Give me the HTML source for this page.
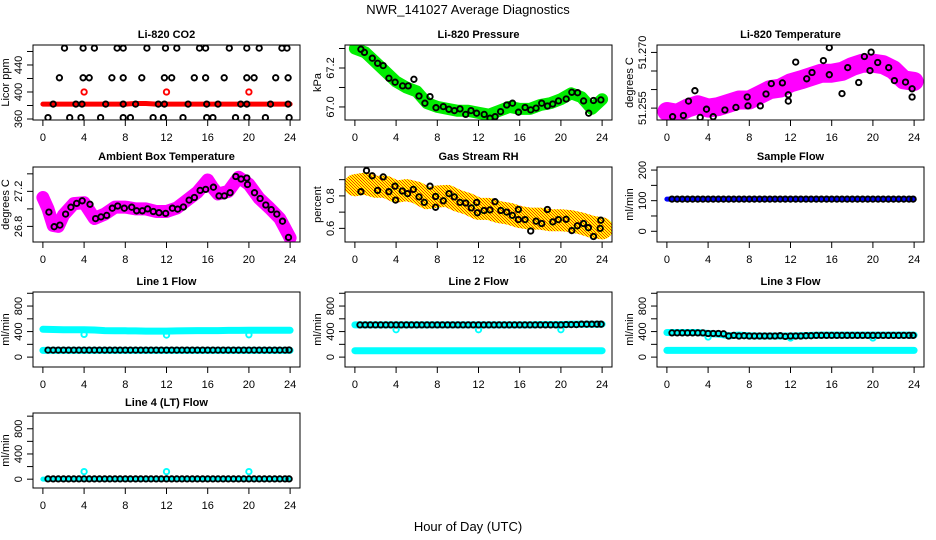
<!DOCTYPE html>
<html><head><meta charset="utf-8"><style>
html,body{margin:0;padding:0;background:#fff;}
svg{display:block;font-family:"Liberation Sans",Arial,sans-serif;}
</style></head><body>
<svg id="chart" width="936" height="540" viewBox="0 0 936 540" xmlns="http://www.w3.org/2000/svg">
<defs>
<pattern id="rhpat" width="3" height="3" patternUnits="userSpaceOnUse">
<rect width="3" height="3" fill="#ffff00"/><rect width="1" height="1" fill="#ff3300"/><rect x="1" y="1" width="1" height="1" fill="#ff3300"/><rect x="2" y="2" width="1" height="1" fill="#ff3300"/>
</pattern>
</defs>
<text x="468" y="14" text-anchor="middle" font-size="13">NWR_141027  Average Diagnostics</text>
<text x="468" y="531" text-anchor="middle" font-size="13">Hour of Day (UTC)</text>
<g id="panels"></g>
</svg>
<script>
const X_TICKS = [0,4,8,12,16,20,24];
const BAND_HOURS = [0,1,2,3,4,5,6,7,8,9,10,11,12,13,14,15,16,17,18,19,20,21,22,23,24];
const FLOW_HOURS = [0.5,1,1.5,2,2.5,3,3.5,4,4.5,5,5.5,6,6.5,7,7.5,8,8.5,9,9.5,10,10.5,11,11.5,12,12.5,13,13.5,14,14.5,15,15.5,16,16.5,17,17.5,18,18.5,19,19.5,20,20.5,21,21.5,22,22.5,23,23.5,23.9];
const DIP_HOURS = [4,12,20];

const CO2_RED_BAND = [382,382,382,382,382,382,382,382,382,383,383,382,382,382,382,382,382,382,382,382,382,382,382,382,382];
const CO2_RED_DIPS = [400,400,400];
const CO2_BLACK_HOURS = [2.1,3.9,5.0,7.2,7.8,10.1,11.9,13.0,15.2,15.8,18.1,19.8,21.0,23.2,23.7, 1.6,3.9,4.5,6.7,7.8,9.6,11.8,12.5,14.7,15.8,17.6,19.8,20.5,22.6,23.8, 1.0,3.2,3.8,6.1,7.8,9.0,11.2,11.8,14.1,15.9,17.0,19.2,19.8,22.1,23.8, 0.5,2.6,3.7,5.6,7.8,8.5,10.7,11.7,13.6,15.9,16.5,18.7,19.8,21.6,23.9];
const CO2_BLACK_VALUES = [465,465,465,465,465,465,465,465,465,465,465,465,465,465,465, 421,421,421,421,421,421,421,421,421,421,421,421,421,421,421, 382,382,382,382,382,382,382,382,382,382,382,382,382,382,382, 362,362,362,362,362,362,362,362,362,362,362,362,362,362,362];

const PRES_BAND = [67.30,67.28,67.23,67.18,67.13,67.10,67.08,67.02,67.00,66.99,66.98,66.98,66.97,66.96,66.98,67.00,66.99,66.99,67.01,67.02,67.04,67.07,67.05,66.99,67.04];
const PRES_BLACK_HOURS = [0.58,0.92,1.69,2.2,2.75,3.3,3.9,4.63,5.18,5.73,6.22,6.8,7.29,7.87,8.58,9.13,9.66,10.2,10.76,11.27,11.82,12.55,13.12,13.61,14.15,14.74,15.3,15.88,16.52,17.07,17.59,18.14,18.7,19.2,19.77,20.51,21.06,21.62,22.2,22.7,23.16,23.88];
const PRES_BLACK_VALUES = [67.296,67.28,67.25,67.224,67.212,67.147,67.127,67.108,67.108,67.142,67.056,67.019,67.053,66.996,67.002,66.988,66.981,66.99,66.962,66.981,66.968,66.962,66.942,66.95,66.976,67.01,67.019,66.973,66.997,66.985,66.994,67.019,67.005,67.015,67.031,67.041,67.075,67.073,67.031,66.968,67.033,67.036];

const LTEMP_BAND = [51.2541,51.2536,51.2550,51.2559,51.2550,51.2554,51.2563,51.2572,51.2572,51.2586,51.2600,51.2604,51.2618,51.2626,51.2635,51.2644,51.2644,51.2649,51.2662,51.2671,51.2671,51.2667,51.2653,51.2626,51.2622];
const LTEMP_BLACK_HOURS = [0.55,1.6,2.1,2.72,3.23,3.85,4.5,5.63,6.7,7.8,7.87,9.07,9.62,10.14,11.21,11.79,11.79,12.5,13.57,14.09,15.19,15.77,15.77,17.0,17.55,18.62,19.17,19.82,19.72,20.47,21.53,22.09,23.16,23.8,23.8];
const LTEMP_BLACK_VALUES = [51.2527,51.2530,51.2569,51.2597,51.2525,51.2547,51.2527,51.2545,51.2552,51.2580,51.2556,51.2556,51.2588,51.2616,51.2618,51.2586,51.2569,51.2674,51.2629,51.2646,51.2678,51.2713,51.2640,51.2589,51.2659,51.2619,51.2689,51.2701,51.2651,51.2673,51.2659,51.2624,51.2620,51.2602,51.2580];

const AMB_BAND_HOURS = [0,0.5,1,1.5,2,3,4,5,6,7,8,9,10,11,12,13,14,15,16,16.5,17,18,19,20,21,22,23,24];
const AMB_BAND = [27.13,27.0,26.81,26.80,26.93,27.06,27.07,26.89,26.94,27.02,27.02,27.0,27.0,26.97,26.97,27.01,27.10,27.19,27.33,27.24,27.17,27.2,27.36,27.28,27.12,27.01,26.89,26.67];
const AMB_BLACK_HOURS = [0.58,1.1,1.65,2.2,2.72,3.27,3.82,4.57,5.12,5.64,6.19,6.74,7.26,7.9,8.62,9.1,9.65,10.17,10.72,11.27,11.92,12.57,13.09,13.64,14.19,14.71,15.26,15.81,16.55,17.1,17.62,18.17,18.73,19.24,19.8,19.86,20.54,21.09,21.64,22.16,22.71,23.26,23.84];
const AMB_BLACK_VALUES = [26.963,26.797,26.815,26.94,27.019,27.063,27.092,27.052,26.889,26.908,26.926,27.008,27.033,27.008,27.019,26.978,26.978,27.0,26.97,26.956,26.948,27.008,26.997,27.022,27.1,27.13,27.211,27.222,27.248,27.148,27.148,27.185,27.37,27.341,27.352,27.278,27.185,27.119,27.044,26.992,26.941,26.859,26.674];

const RH_BAND = [0.866,0.876,0.856,0.856,0.826,0.836,0.82,0.786,0.796,0.80,0.77,0.75,0.72,0.72,0.70,0.69,0.67,0.66,0.66,0.65,0.65,0.644,0.63,0.61,0.60];
const RH_BLACK_HOURS = [0.58,1.13,1.68,2.2,2.75,3.3,3.89,3.95,4.6,5.12,5.67,6.22,6.74,7.29,7.84,7.84,8.58,9.14,9.65,10.2,10.76,11.3,11.83,11.89,12.53,13.12,13.6,14.16,14.74,15.29,15.87,15.87,16.52,17.07,17.59,18.14,18.69,19.21,19.76,20.5,21.06,21.6,22.19,22.67,23.16,23.81,23.87];
const RH_BLACK_VALUES = [0.826,0.956,0.924,0.834,0.917,0.826,0.86,0.774,0.83,0.814,0.84,0.794,0.76,0.86,0.796,0.73,0.77,0.814,0.794,0.76,0.756,0.726,0.76,0.696,0.71,0.714,0.764,0.71,0.70,0.68,0.654,0.716,0.654,0.584,0.644,0.63,0.716,0.64,0.654,0.656,0.586,0.616,0.63,0.604,0.55,0.60,0.65];

const SAMPLE_BAND = [105,105,105,105,105,105,105,105,105,105,105,105,105,105,105,105,105,105,105,105,105,105,105,105,105];
const SAMPLE_BLACK = [105,105,105,105,105,105,105,105,105,105,105,105,105,105,105,105,105,105,105,105,105,105,105,105,105,105,105,105,105,105,105,105,105,105,105,105,105,105,105,105,105,105,105,105,105,105,105,105];

const L1_CYAN_HIGH = [435,432,430,428,430,425,415,412,412,410,408,408,408,410,412,415,415,415,418,418,420,420,420,420,420];
const L1_CYAN_LOW = [105,105,105,105,105,105,105,105,105,105,105,105,105,105,105,105,105,105,105,105,105,105,105,105,105];
const L1_DIPS = [355,345,350];
const L1_BLACK = [110,110,110,110,110,110,110,110,110,110,110,110,110,110,110,110,110,110,110,110,110,110,110,110,110,110,110,110,110,110,110,110,110,110,110,110,110,110,110,110,110,110,110,110,110,110,110,112];

const L2_CYAN_HIGH = [505,505,505,505,505,505,505,505,505,505,505,505,505,505,505,505,505,505,510,510,510,515,515,515,515];
const L2_CYAN_LOW = [100,100,100,100,100,100,100,100,100,100,100,100,100,100,100,100,100,100,100,100,100,100,100,100,100];
const L2_DIPS = [430,430,430];
const L2_BLACK = [505,505,505,505,505,505,505,505,505,505,505,505,505,505,505,505,505,505,505,505,505,505,505,505,505,505,505,505,505,505,505,505,505,505,505,505,505,505,505,505,510,510,510,515,515,515,515,515];

const L3_CYAN_HIGH = [385,385,385,385,370,360,335,345,335,330,330,330,330,335,340,345,345,345,345,345,345,345,345,345,345];
const L3_CYAN_LOW = [105,105,105,105,105,105,105,105,105,105,105,105,105,105,105,105,105,105,105,105,105,105,105,105,105];
const L3_DIPS = [315,300,300];
const L3_BLACK = [380,380,380,380,380,380,380,370,370,370,365,330,340,330,335,330,330,330,330,330,330,335,325,330,330,330,335,335,340,340,340,340,340,340,340,340,340,340,340,340,340,340,340,340,340,340,340,340];

const L4_CYAN = [2,2,2,2,2,2,2,2,2,2,2,2,2,2,2,2,2,2,2,2,2,2,2,2,2];
const L4_DIPS = [120,120,120];
const L4_BLACK = [5,5,5,5,5,5,5,5,5,5,5,5,5,5,5,5,5,5,5,5,5,5,5,5,5,5,5,5,5,5,5,5,5,5,5,5,5,5,5,5,5,5,5,5,5,5,5,5];

const Y_CO2 = [360,380,400,420,440,460], Y_CO2_LAB = ['360','','400','','440',''];
const Y_PRES = [67.0,67.1,67.2,67.3], Y_PRES_LAB = ['67.0','','67.2',''];
const Y_LT = [51.255,51.26,51.265,51.27], Y_LT_LAB = ['51.255','','','51.270'];
const Y_AMB = [26.8,27.0,27.2,27.4], Y_AMB_LAB = ['26.8','','27.2',''];
const Y_RH = [0.6,0.7,0.8,0.9], Y_RH_LAB = ['0.6','','0.8',''];
const Y_SF = [0,50,100,150,200], Y_SF_LAB = ['0','','100','','200'];
const Y_FL = [0,200,400,600,800,1000], Y_FL_LAB = ['0','','400','','800',''];

const NS = 'http://www.w3.org/2000/svg';
const root = document.getElementById('panels');
function mk(tag, attrs, parent){ const e=document.createElementNS(NS,tag); for(const k in attrs) e.setAttribute(k,attrs[k]); (parent||root).appendChild(e); return e; }

const COLS=[33,345,657], ROWS=[45,167,292,413], W=267, H=75;

function panel(o){
  const L=COLS[o.c], T=ROWS[o.r], B=T+H, R=L+W;
  const g=mk('g',{});
  
  
  const xs=h=>L+(h+0.96)/25.92*W;
  const ys=v=>B-(v-o.ymin)/(o.ymax-o.ymin)*H;
  const clip='clip'+o.name;
  const cp=mk('clipPath',{id:clip},g); mk('rect',{x:L,y:T,width:W,height:H},cp);
  const data=mk('g',{'clip-path':'url(#'+clip+')'},g);
  (o.bands||[]).forEach(bd=>{
    const pts=bd.v.map((v,i)=>xs(bd.h[i]).toFixed(1)+','+ys(v).toFixed(1)).join(' ');
    const pl=mk('polyline',{points:pts,fill:'none',stroke:bd.col,'stroke-width':bd.w,'stroke-linejoin':'round','stroke-linecap':'round'},data);
    
    
  });
  (o.pts||[]).forEach(ps=>{
    ps.v.forEach((v,i)=>{
      const c=mk('circle',{cx:xs(ps.h[i]).toFixed(1),cy:ys(v).toFixed(1),r:2.7,fill:'none',stroke:ps.col,'stroke-width':1.9},data);
      
      
    });
  });
  mk('rect',{x:L,y:T,width:W,height:H,fill:'none',stroke:'#000','stroke-width':1},g);
  X_TICKS.forEach(t=>{
    const x=xs(t);
    mk('line',{x1:x,x2:x,y1:B,y2:B+6,stroke:'#000'},g);
    const tx=mk('text',{x:x,y:B+21,'text-anchor':'middle','font-size':11},g);
    tx.textContent=t;
    
    
  });
  o.yt.forEach((t,i)=>{
    const y=ys(t);
    mk('line',{x1:L-6,x2:L,y1:y,y2:y,stroke:'#000'},g);
    if(o.yl[i]){
      const tx=mk('text',{x:0,y:0,'text-anchor':'middle','font-size':11,transform:'translate('+(L-11)+','+y+') rotate(-90)'},g);
      tx.textContent=o.yl[i];
      
      
    }
  });
  const tt=mk('text',{x:(L+R)/2,y:T-7,'text-anchor':'middle','font-size':11,'font-weight':'bold'},g);
  tt.textContent=o.title;
  
  
  const yl=mk('text',{x:0,y:0,'text-anchor':'middle','font-size':11,transform:'translate('+(L-24)+','+(T+H/2)+') rotate(-90)'},g);
  yl.textContent=o.ylab;
  
  
}

panel({name:'co2-panel',c:0,r:0,title:'Li-820 CO2',ylab:'Licor ppm',ymin:358.5,ymax:469.6,yt:Y_CO2,yl:Y_CO2_LAB,
  bands:[{name:'co2-red-band',h:BAND_HOURS,v:CO2_RED_BAND,col:'#ff0000',w:5}],
  pts:[{name:'co2-red-point',h:DIP_HOURS,v:CO2_RED_DIPS,col:'#ff0000'},{name:'co2-black-point',h:CO2_BLACK_HOURS,v:CO2_BLACK_VALUES,col:'#000'}]});
panel({name:'pressure-panel',c:1,r:0,title:'Li-820 Pressure',ylab:'kPa',ymin:66.933,ymax:67.318,yt:Y_PRES,yl:Y_PRES_LAB,
  bands:[{name:'pressure-band',h:BAND_HOURS,v:PRES_BAND,col:'#00ee00',w:12}],
  pts:[{name:'pressure-point',h:PRES_BLACK_HOURS,v:PRES_BLACK_VALUES,col:'#000'}]});
panel({name:'li-temp-panel',c:2,r:0,title:'Li-820 Temperature',ylab:'degrees C',ymin:51.2518,ymax:51.2720,yt:Y_LT,yl:Y_LT_LAB,
  bands:[{name:'li-temp-band',h:BAND_HOURS,v:LTEMP_BAND,col:'#ff00ff',w:19}],
  pts:[{name:'li-temp-point',h:LTEMP_BLACK_HOURS,v:LTEMP_BLACK_VALUES,col:'#000'}]});
panel({name:'ambient-panel',c:0,r:1,title:'Ambient Box Temperature',ylab:'degrees C',ymin:26.622,ymax:27.478,yt:Y_AMB,yl:Y_AMB_LAB,
  bands:[{name:'ambient-band',h:AMB_BAND_HOURS,v:AMB_BAND,col:'#ff00ff',w:13}],
  pts:[{name:'ambient-point',h:AMB_BLACK_HOURS,v:AMB_BLACK_VALUES,col:'#000'}]});
panel({name:'rh-panel',c:1,r:1,title:'Gas Stream RH',ylab:'percent',ymin:0.516,ymax:0.978,yt:Y_RH,yl:Y_RH_LAB,
  bands:[{name:'rh-band',h:BAND_HOURS,v:RH_BAND,col:'url(#rhpat)',w:22}],
  pts:[{name:'rh-point',h:RH_BLACK_HOURS,v:RH_BLACK_VALUES,col:'#000'}]});
panel({name:'sample-flow-panel',c:2,r:1,title:'Sample Flow',ylab:'ml/min',ymin:-35,ymax:210,yt:Y_SF,yl:Y_SF_LAB,
  bands:[{name:'sample-flow-band',h:BAND_HOURS,v:SAMPLE_BAND,col:'#0000ff',w:5}],
  pts:[{name:'sample-flow-point',h:FLOW_HOURS,v:SAMPLE_BLACK,col:'#000'}]});
panel({name:'line1-panel',c:0,r:2,title:'Line 1 Flow',ylab:'ml/min',ymin:-155,ymax:1020,yt:Y_FL,yl:Y_FL_LAB,
  bands:[{name:'line1-cyan-high',h:BAND_HOURS,v:L1_CYAN_HIGH,col:'#00ffff',w:7},{name:'line1-cyan-low',h:BAND_HOURS,v:L1_CYAN_LOW,col:'#00ffff',w:7}],
  pts:[{name:'line1-dip',h:DIP_HOURS,v:L1_DIPS,col:'#00ffff'},{name:'line1-point',h:FLOW_HOURS,v:L1_BLACK,col:'#000'}]});
panel({name:'line2-panel',c:1,r:2,title:'Line 2 Flow',ylab:'ml/min',ymin:-155,ymax:1020,yt:Y_FL,yl:Y_FL_LAB,
  bands:[{name:'line2-cyan-high',h:BAND_HOURS,v:L2_CYAN_HIGH,col:'#00ffff',w:7},{name:'line2-cyan-low',h:BAND_HOURS,v:L2_CYAN_LOW,col:'#00ffff',w:7}],
  pts:[{name:'line2-dip',h:DIP_HOURS,v:L2_DIPS,col:'#00ffff'},{name:'line2-point',h:FLOW_HOURS,v:L2_BLACK,col:'#000'}]});
panel({name:'line3-panel',c:2,r:2,title:'Line 3 Flow',ylab:'ml/min',ymin:-155,ymax:1020,yt:Y_FL,yl:Y_FL_LAB,
  bands:[{name:'line3-cyan-high',h:BAND_HOURS,v:L3_CYAN_HIGH,col:'#00ffff',w:7},{name:'line3-cyan-low',h:BAND_HOURS,v:L3_CYAN_LOW,col:'#00ffff',w:7}],
  pts:[{name:'line3-dip',h:DIP_HOURS,v:L3_DIPS,col:'#00ffff'},{name:'line3-point',h:FLOW_HOURS,v:L3_BLACK,col:'#000'}]});
panel({name:'line4-panel',c:0,r:3,title:'Line 4 (LT) Flow',ylab:'ml/min',ymin:-140,ymax:1050,yt:Y_FL,yl:Y_FL_LAB,
  bands:[{name:'line4-cyan',h:BAND_HOURS,v:L4_CYAN,col:'#00ffff',w:5}],
  pts:[{name:'line4-dip',h:DIP_HOURS,v:L4_DIPS,col:'#00ffff'},{name:'line4-point',h:FLOW_HOURS,v:L4_BLACK,col:'#000'}]});
</script>
</body></html>
